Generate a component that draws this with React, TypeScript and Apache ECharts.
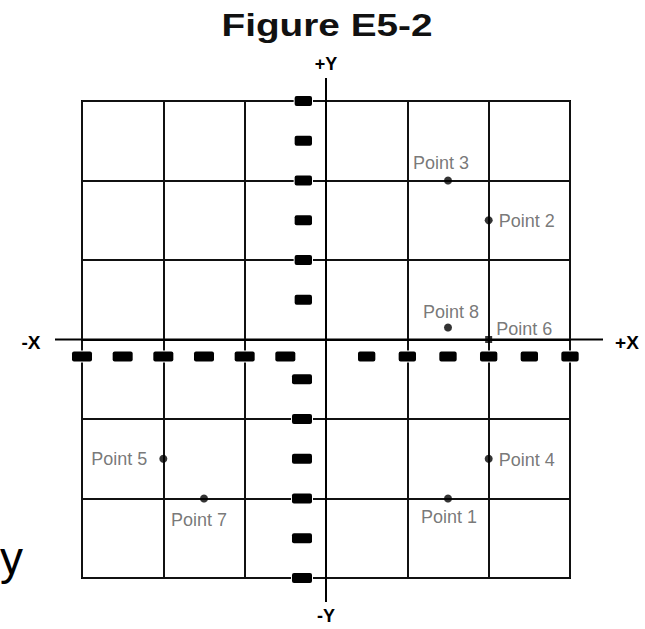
import React, { useEffect, useRef } from "react";
import * as echarts from "echarts";

const chartTitle = "Figure E5-2";
const axisMin = -600;
const axisMax = 600;
const tickStep = 100;
const pointNames = ["Point 1", "Point 2", "Point 3", "Point 4", "Point 5", "Point 6", "Point 7", "Point 8"];
const pointX = [300, 400, 300, 400, -400, 400, -300, 300];
const pointY = [-400, 300, 400, -300, -300, 0, -400, 30];

const FONT = "Arial, 'Liberation Sans', sans-serif";
const W = 645;
const H = 629;
const GRID = { left: 82, right: 75, top: 101, bottom: 51 };

const labelLayout: Record<string, any> = {
  "Point 1": { position: "bottom", distance: 5, offset: [1, 0] },
  "Point 2": { position: "right", distance: 6, offset: [0, 1] },
  "Point 3": { position: "top", distance: 5, offset: [-7, 0] },
  "Point 4": { position: "right", distance: 6, offset: [0, 1] },
  "Point 5": { position: "left", distance: 12, offset: [0, 0] },
  "Point 6": { position: "right", distance: 4, offset: [0, -11] },
  "Point 7": { position: "bottom", distance: 8, offset: [-5, 0] },
  "Point 8": { position: "top", distance: 3, offset: [3, 0] },
};

const tickLabel = (margin: number) => ({
  margin,
  formatter: (v: number) => (v === 0 ? "" : `{b|${v}}`),
  rich: {
    b: {
      fontSize: 8,
      fontWeight: "bold",
      fontFamily: FONT,
      color: "#000",
      backgroundColor: "#000",
      padding: [1, 2],
      borderRadius: 2,
      borderColor: "#fff",
      borderWidth: 1,
    },
  },
});

const makeAxis = (offset: number, margin: number) => ({
  type: "value",
  min: axisMin,
  max: axisMax,
  interval: tickStep,
  offset,
  axisLine: { onZero: false, lineStyle: { color: "#000", width: 2 } },
  axisTick: { show: false },
  // grid lines on every second tick (every 200 units)
  splitLine: { show: true, lineStyle: { color: ["#111", "rgba(0,0,0,0)"], width: 2 } },
  axisLabel: tickLabel(margin),
  z: 5,
});

export default function App() {
  const ref = useRef<HTMLDivElement>(null);
  useEffect(() => {
    document.body.style.margin = "0";
    const chart = echarts.init(ref.current!, null, { renderer: "svg" });
    const data = pointNames.map((name, i) => ({
      name,
      value: [pointX[i], pointY[i]],
      symbol: name === "Point 6" ? "rect" : "circle",
      symbolSize: name === "Point 6" ? 7 : 8,
      label: { show: true, formatter: name, ...labelLayout[name] },
    }));
    const gridW = W - GRID.left - GRID.right;
    const gridH = H - GRID.top - GRID.bottom;
    // place the axes (and their labels) through the origin
    const zeroFracX = (0 - axisMin) / (axisMax - axisMin);
    const zeroFracY = (0 - axisMin) / (axisMax - axisMin);
    chart.setOption({
      animation: false,
      backgroundColor: "#fff",
      grid: { ...GRID, show: true, borderColor: "#000", borderWidth: 2 },
      xAxis: makeAxis(-gridH * zeroFracY, 12),
      yAxis: makeAxis(-gridW * zeroFracX, 14),
      series: [
        {
          type: "scatter",
          data,
          itemStyle: { color: "#000" },
          label: { fontSize: 18, fontFamily: FONT, color: "#555" },
          z: 10,
        },
      ],
    });
    const origin = chart.convertToPixel({ gridIndex: 0 }, [0, 0]) as number[];
    const bold = { fontFamily: FONT, fontWeight: "bold", fill: "#000", align: "center", verticalAlign: "middle" };
    chart.setOption({
      graphic: [
        { type: "line", shape: { x1: 55, y1: origin[1], x2: 603, y2: origin[1] }, style: { stroke: "#000", lineWidth: 2 }, z: 1 },
        { type: "line", shape: { x1: origin[0], y1: 78, x2: origin[0], y2: 602 }, style: { stroke: "#000", lineWidth: 2 }, z: 1 },
        { type: "text", x: 327, y: 25, scaleX: 1.25, style: { ...bold, text: chartTitle, fontSize: 31, fill: "#111" } },
        { type: "text", x: 326, y: 64, style: { ...bold, text: "+Y", fontSize: 18 } },
        { type: "text", x: 326, y: 616, style: { ...bold, text: "-Y", fontSize: 18 } },
        { type: "text", x: 31, y: 342, style: { ...bold, text: "-X", fontSize: 19 } },
        { type: "text", x: 627, y: 342, style: { ...bold, text: "+X", fontSize: 19 } },
        { type: "text", x: 0, y: 558, style: { text: "y", fontFamily: FONT, fontSize: 46, fill: "#000", align: "left", verticalAlign: "middle" } },
      ],
    });
    return () => chart.dispose();
  }, []);
  return <div ref={ref} style={{ position: "fixed", left: 0, top: 0, width: W, height: H }} />;
}
